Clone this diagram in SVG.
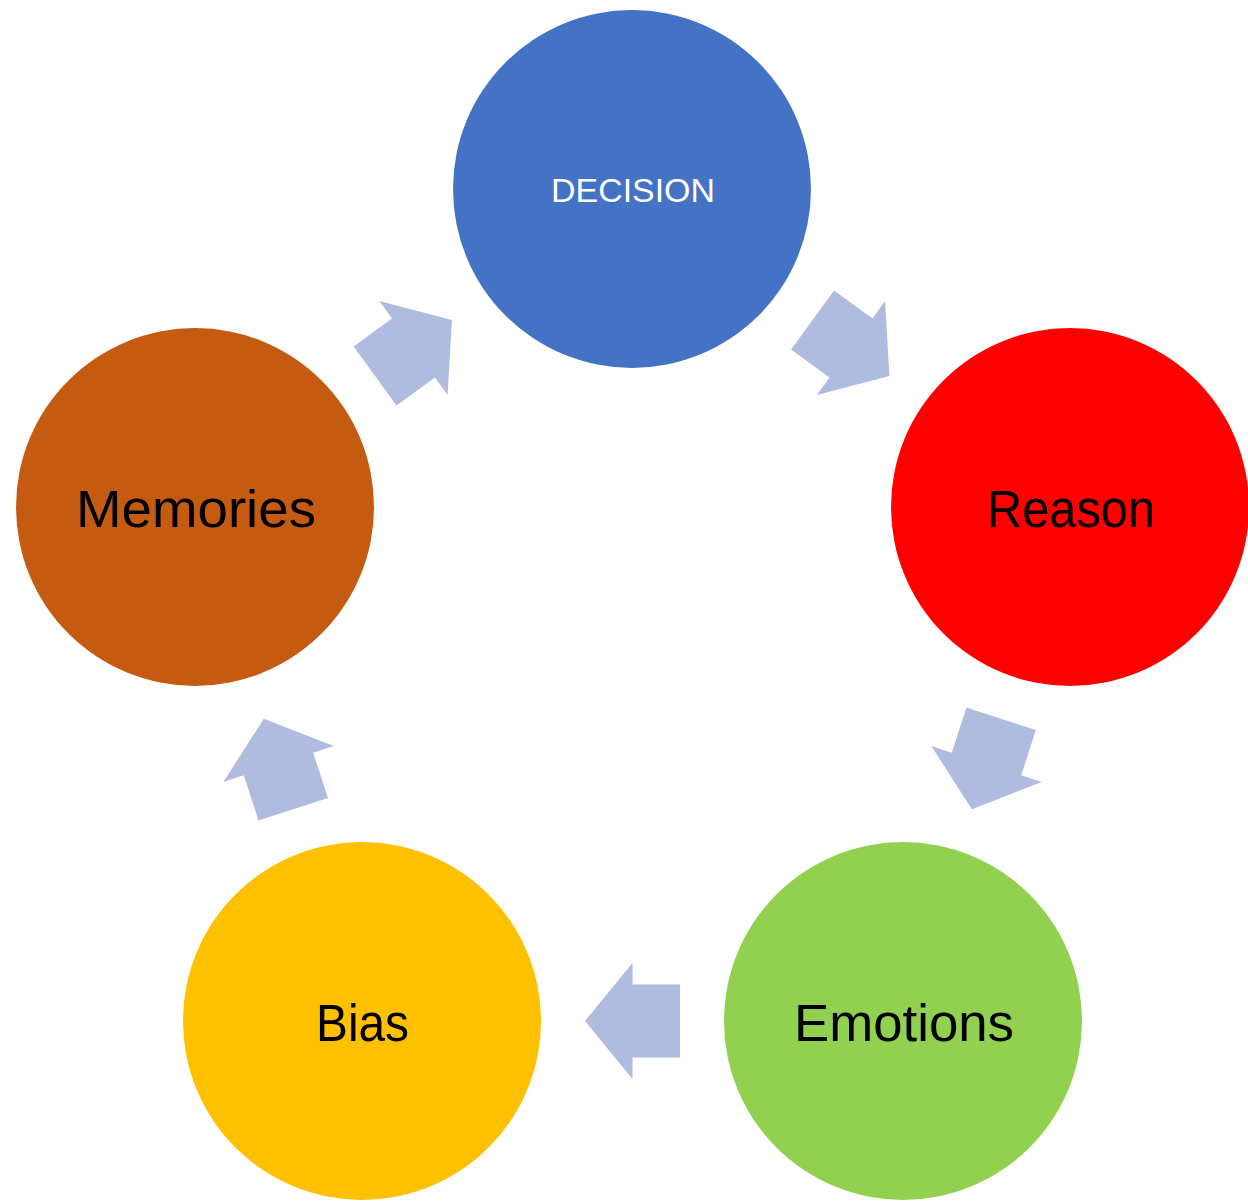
<svg xmlns="http://www.w3.org/2000/svg" width="1248" height="1202" viewBox="0 0 1248 1202">
  <style>
    .lbl { font-family: "Liberation Sans", Arial, sans-serif; font-size: 51px; fill: #000000; text-anchor: middle; }
    .dec { font-family: "Liberation Sans", Arial, sans-serif; font-size: 34px; fill: #FFFFFF; text-anchor: middle; }
    .arrow { fill: #AFBBDF; }
  </style>
  <defs>
    <path id="blockArrow" d="M47.5,0 L0,-58 L0,-36.5 L-47.5,-36.5 L-47.5,36.5 L0,36.5 L0,58 Z"/>
  </defs>
  <rect width="1248" height="1202" fill="#FFFFFF"/>
  <g id="connectors">
    <use href="#blockArrow" class="arrow" transform="translate(851,348) rotate(36)"/>
    <use href="#blockArrow" class="arrow" transform="translate(986.5,764) rotate(108)"/>
    <use href="#blockArrow" class="arrow" transform="translate(632.5,1021) rotate(180)"/>
    <use href="#blockArrow" class="arrow" transform="translate(278.5,764) rotate(252)"/>
    <use href="#blockArrow" class="arrow" transform="translate(413.5,348) rotate(-36)"/>
  </g>
  <g id="decision">
    <circle cx="632" cy="189" r="179" fill="#4472C4"/>
    <text class="dec" x="633" y="202" textLength="164" lengthAdjust="spacingAndGlyphs">DECISION</text>
  </g>
  <g id="reason">
    <circle cx="1070" cy="507" r="179" fill="#FF0000"/>
    <text class="lbl" x="1071" y="527" textLength="168" lengthAdjust="spacingAndGlyphs">Reason</text>
  </g>
  <g id="emotions">
    <circle cx="903" cy="1021" r="179" fill="#92D050"/>
    <text class="lbl" x="904" y="1041" textLength="220" lengthAdjust="spacingAndGlyphs">Emotions</text>
  </g>
  <g id="bias">
    <circle cx="362" cy="1021" r="179" fill="#FFC000"/>
    <text class="lbl" x="362.5" y="1041" textLength="93" lengthAdjust="spacingAndGlyphs">Bias</text>
  </g>
  <g id="memories">
    <circle cx="195" cy="507" r="179" fill="#C55A11"/>
    <text class="lbl" x="196" y="527" textLength="240" lengthAdjust="spacingAndGlyphs">Memories</text>
  </g>
</svg>
